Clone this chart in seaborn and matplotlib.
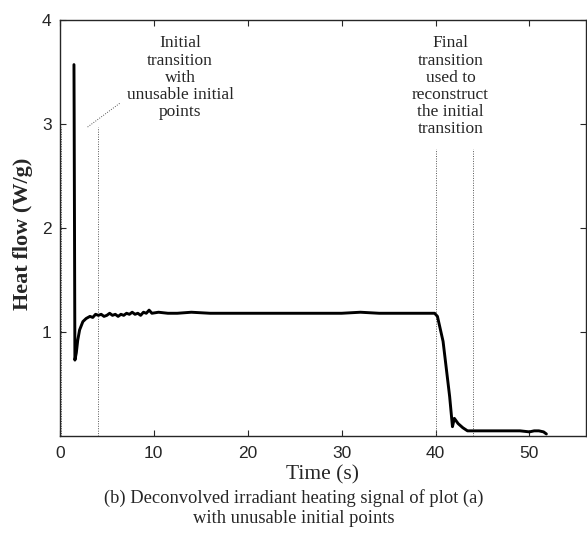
import matplotlib
matplotlib.use("Agg")
import matplotlib.pyplot as plt
import seaborn as sns
import pandas as pd

# ---- data ----
time_s = [1.50, 1.52, 1.60, 1.75, 1.90, 2.10, 2.45, 2.80, 3.20, 3.50, 3.80, 4.10, 4.40,
          4.70, 5.00, 5.30, 5.60, 5.90, 6.20, 6.50, 6.80, 7.10, 7.40, 7.70, 8.00, 8.30,
          8.60, 8.90, 9.20, 9.50, 9.80, 10.5, 11.5, 12.5, 14.0, 16.0, 18.0, 20.0, 22.0,
          24.0, 26.0, 28.0, 30.0, 32.0, 34.0, 36.0, 38.0, 39.9, 40.2, 40.8, 41.5, 41.8,
          42.0, 42.4, 42.9, 43.4, 45.0, 47.0, 49.0, 50.0, 50.5, 51.0, 51.5, 51.8]
heat_flow = [3.57, 3.10, 0.73, 0.80, 0.92, 1.02, 1.10, 1.13, 1.15, 1.14, 1.17, 1.16, 1.17,
             1.15, 1.16, 1.18, 1.16, 1.17, 1.15, 1.17, 1.16, 1.18, 1.17, 1.19, 1.17, 1.18,
             1.16, 1.19, 1.18, 1.21, 1.18, 1.19, 1.18, 1.18, 1.19, 1.18, 1.18, 1.18, 1.18,
             1.18, 1.18, 1.18, 1.18, 1.19, 1.18, 1.18, 1.18, 1.18, 1.15, 0.91, 0.38, 0.09,
             0.17, 0.12, 0.08, 0.05, 0.05, 0.05, 0.05, 0.04, 0.05, 0.05, 0.04, 0.02]
x_ticks = [0, 10, 20, 30, 40, 50]
y_ticks = [1, 2, 3, 4]
marker_lines = [0.15, 4.1, 40.0, 44.0]
marker_tops = [2.97, 2.97, 2.76, 2.76]
note_initial = "Initial\ntransition\nwith\nunusable initial\npoints"
note_final = "Final\ntransition\nused to\nreconstruct\nthe initial\ntransition"
x_label = "Time (s)"
y_label = "Heat flow (W/g)"
caption = "(b) Deconvolved irradiant heating signal of plot (a)\nwith unusable initial points"

sns.set_style("ticks")
plt.rcParams["font.family"] = ["Liberation Serif", "DejaVu Serif"]

df = pd.DataFrame({"t": time_s, "q": heat_flow})

fig = plt.figure(figsize=(5.87, 5.37), dpi=100)
ax = fig.add_axes([0.102, 0.188, 0.896, 0.775])

for xm, ym in zip(marker_lines, marker_tops):
    ax.plot([xm, xm], [0, ym], color="#555555", lw=0.7, ls=(0, (1, 1.5)))
# leader line from the left note
ax.plot([2.95, 6.4], [2.97, 3.2], color="#555555", lw=0.7, ls=(0, (1, 1.5)))

sns.lineplot(data=df, x="t", y="q", sort=False, estimator=None, color="black",
             lw=2.1, ax=ax)

ax.set_xlim(0, 56)
ax.set_ylim(0, 4)
ax.set_xticks(x_ticks)
ax.set_yticks(y_ticks)
ax.tick_params(direction="in", top=True, right=True, length=4, width=0.8,
               labelsize=12.5)
ax.tick_params(axis="x", pad=7)
ax.tick_params(axis="y", pad=6)
for lab in ax.get_xticklabels() + ax.get_yticklabels():
    lab.set_family("Liberation Sans")
for s in ax.spines.values():
    s.set_linewidth(1.0)

ax.set_xlabel(x_label, fontsize=15.5, labelpad=3)
ax.set_ylabel(y_label, fontsize=16, fontweight="bold")
ax.yaxis.set_label_coords(-0.052, 0.485)

ax.text(12.8, 3.85, note_initial, ha="center", va="top", fontsize=12.5,
        linespacing=1.1)
ax.text(41.6, 3.85, note_final, ha="center", va="top", fontsize=12.5,
        linespacing=1.1)

fig.text(0.5, 0.054, caption, ha="center", va="center", fontsize=13.3,
         linespacing=1.3)

fig.savefig("out.png", dpi=100)
